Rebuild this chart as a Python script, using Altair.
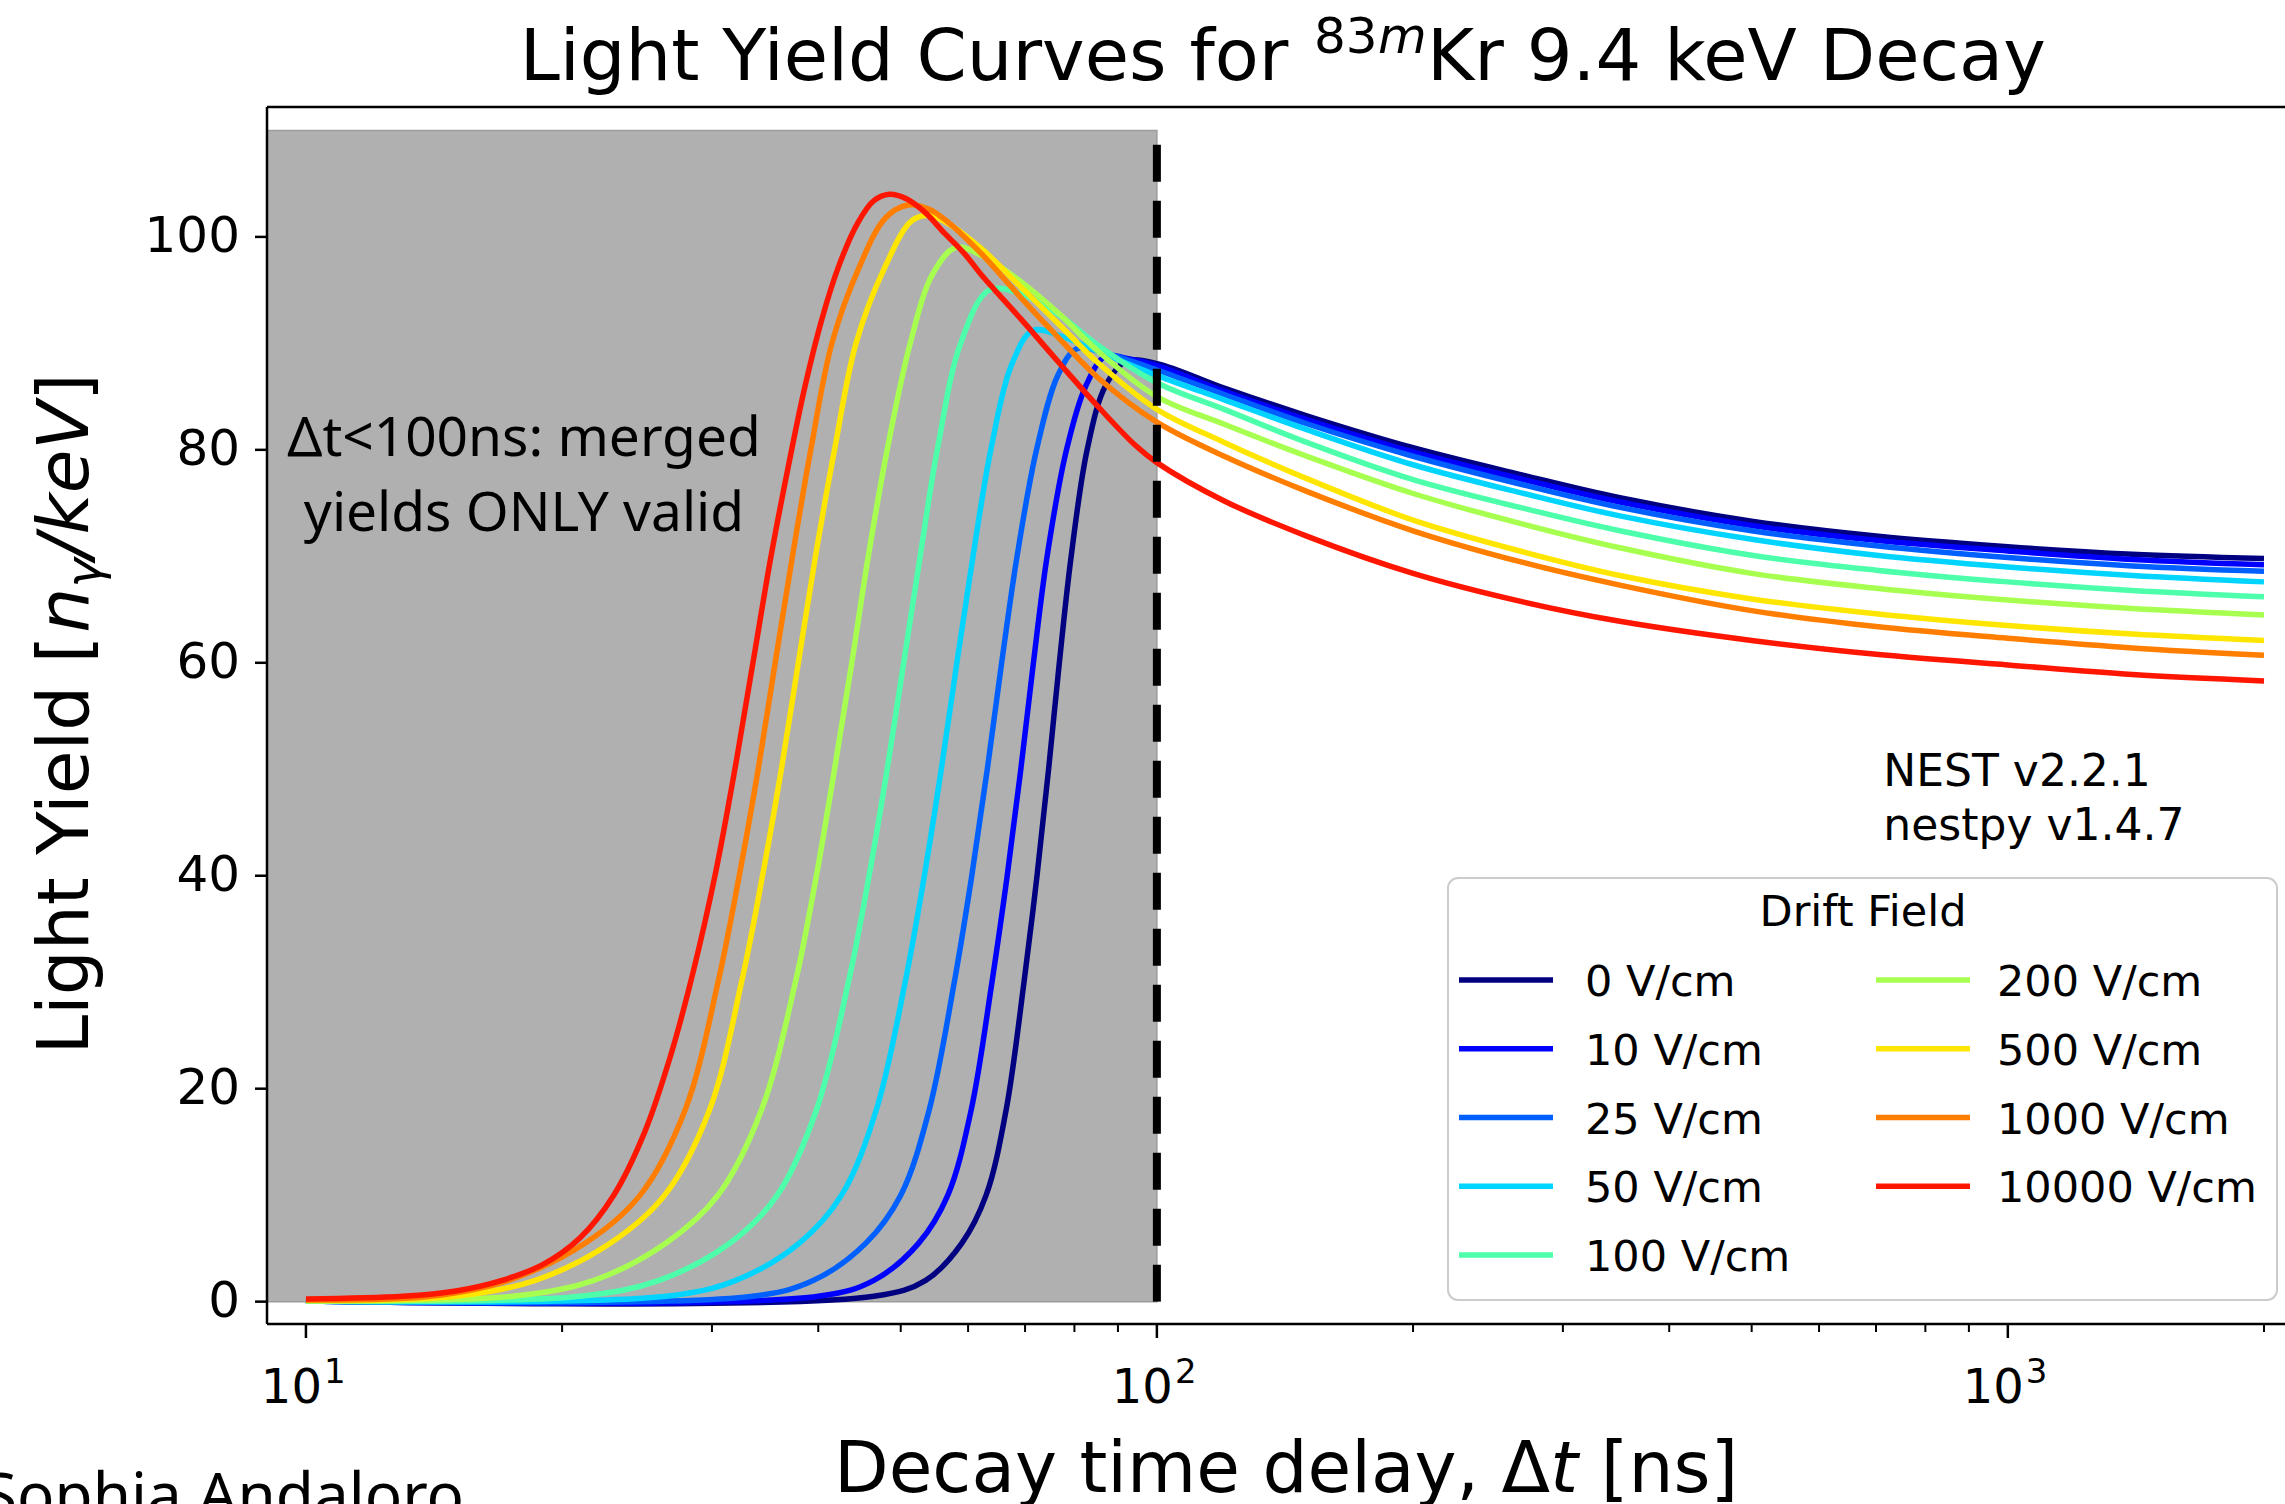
import altair as alt
import pandas as pd

# ---------------- data ----------------
FIELDS = ["0 V/cm", "10 V/cm", "25 V/cm", "50 V/cm", "100 V/cm",
          "200 V/cm", "500 V/cm", "1000 V/cm", "10000 V/cm"]
COLORS = ["#000080", "#0000ff", "#0060ff", "#00d4ff", "#4dffaa",
          "#a7ff50", "#ffe600", "#ff7e00", "#ff1600"]

# decay part (t > 100 ns), common grid
T_DECAY = [120, 150, 200, 270, 350, 500, 700, 1000, 1400, 2000]

T_0 = [10, 46.5, 53.5, 59, 63, 66.5, 69.8, 72.3, 74.6, 76.8, 79.3, 82.8, 87, 92, 100]
Y_0 = [0.05, 0.5, 2, 5.5, 10, 18, 30, 40, 50, 60, 70, 80, 86, 88.3, 88.1]
D_0 = [85.8, 83.2, 80.2, 77.6, 75.5, 73.3, 71.9, 70.9, 70.2, 69.8]

T_10 = [10, 40, 46.5, 52.5, 56.8, 60.5, 64, 66.7, 69.2, 71.6, 74.3, 78.3, 82.5, 87, 92, 100]
Y_10 = [0.05, 0.5, 2, 5.5, 10, 18, 30, 40, 50, 60, 70, 80, 86, 88.8, 88.6, 87.9]
D_10 = [85.5, 82.85, 79.8, 77.2, 75.1, 72.9, 71.5, 70.5, 69.7, 69.2]

T_25 = [10, 33.5, 39.5, 45.5, 50, 54, 57.8, 60.6, 63.2, 65.7, 68.5, 72.2, 76.5, 80.5, 86, 100]
Y_25 = [0.05, 0.5, 2, 5.5, 10, 18, 30, 40, 50, 60, 70, 80, 87, 89.5, 89.2, 87.5]
D_25 = [85.2, 82.45, 79.4, 76.7, 74.6, 72.4, 71.0, 69.9, 69.1, 68.6]

T_50 = [10, 26.5, 32, 38, 42.6, 46.8, 50.6, 53.3, 55.8, 58.2, 60.8, 63.8, 67.5, 71.5, 77, 85, 100]
Y_50 = [0.05, 0.5, 2, 5.5, 10, 18, 30, 40, 50, 60, 70, 80, 88, 91.2, 90.7, 89.3, 87.0]
D_50 = [84.7, 81.9, 78.6, 75.9, 73.8, 71.6, 70.1, 69.0, 68.2, 67.6]

T_100 = [10, 21, 26, 31.5, 35.8, 39.8, 43.4, 45.9, 48.2, 50.4, 52.7, 55.2, 58.8, 63.5, 69, 77, 85, 100]
Y_100 = [0.05, 0.5, 2, 5.5, 10, 18, 30, 40, 50, 60, 70, 80, 90, 95.0, 94.7, 92.6, 89.9, 86.3]
D_100 = [83.8, 80.7, 77.2, 74.5, 72.4, 70.1, 68.7, 67.6, 66.8, 66.2]

T_200 = [10, 17.5, 21.8, 26.5, 30.5, 34.3, 37.6, 39.8, 41.8, 43.8, 45.8, 48.2, 51.3, 54.5, 58, 62.4,
         69.2, 76.7, 85.2, 100]
Y_200 = [0.08, 0.5, 2, 5.5, 10, 18, 30, 40, 50, 60, 70, 80, 90, 96.5, 99.0, 98.2, 95.8, 92.8, 89.3, 85.0]
D_200 = [82.4, 79.4, 75.9, 73.0, 70.8, 68.4, 67.0, 65.9, 65.1, 64.5]

T_500 = [10, 15, 18.6, 22.8, 26.4, 29.8, 32.5, 34.4, 36.2, 37.9, 39.7, 41.8, 44.3, 47.8, 51.5, 54, 57.5,
         62.4, 69.2, 76.7, 85.2, 100]
Y_500 = [0.1, 0.5, 2, 5.5, 10, 18, 30, 40, 50, 60, 70, 80, 90, 97, 101.5, 102.0, 101.0, 98.8, 95.3,
         91.8, 88.2, 83.8]
D_500 = [80.7, 77.3, 73.4, 70.4, 68.2, 66.0, 64.6, 63.5, 62.7, 62.1]

T_1000 = [10, 14, 17.3, 21.3, 24.7, 27.9, 30.5, 32.3, 34.0, 35.6, 37.3, 39.2, 41.5, 44.6, 48, 51, 54, 57,
          62.4, 69.2, 76.7, 85.2, 100]
Y_1000 = [0.15, 0.5, 2, 5.5, 10, 18, 30, 40, 50, 60, 70, 80, 90, 97, 101.8, 103.0, 102.6, 101.3, 98.3,
          94.3, 90.5, 86.8, 82.6]
D_1000 = [79.4, 76.1, 72.4, 69.4, 67.3, 64.9, 63.4, 62.3, 61.4, 60.7]

T_10000 = [10, 13, 15, 17, 19, 21, 23, 25, 26.8, 28.5, 30.3, 32.0, 33.6, 35.2, 36.9, 38.6, 40.4, 42.3,
           44.5, 46.5, 48.5, 50.7, 53.4, 56.2, 59.3, 62.4, 69.2, 76.7, 85.2, 94.4, 100]
Y_10000 = [0.25, 0.5, 1.0, 2, 3.5, 6, 10, 15.9, 23, 30.9, 40.3, 50.5, 60.5, 70, 78.5, 86, 92.3, 97.3,
           101.3, 103.4, 104.0, 103.6, 102.3, 100.4, 98.5, 96.3, 92.3, 88.2, 84.1, 80.4, 78.8]
D_10000 = [75.2, 71.9, 68.4, 65.7, 63.9, 62.1, 60.8, 59.8, 58.9, 58.3]

T_SERIES = [T_0, T_10, T_25, T_50, T_100, T_200, T_500, T_1000, T_10000]
Y_SERIES = [Y_0, Y_10, Y_25, Y_50, Y_100, Y_200, Y_500, Y_1000, Y_10000]
D_SERIES = [D_0, D_10, D_25, D_50, D_100, D_200, D_500, D_1000, D_10000]

SHADE_T = [9.0, 100]
SHADE_Y = [0, 110]
CUT_T = 100
MAJOR_T = [10, 100, 1000]
MAJOR_EXP = ["1", "2", "3"]
MINOR_T = [20, 30, 40, 50, 60, 70, 80, 90, 200, 300, 400, 500, 600, 700, 800, 900, 2000]
Y_TICKS = [0, 20, 40, 60, 80, 100]
Y_TICK_LABELS = ["0", "20", "40", "60", "80", "100"]

XMIN, XMAX = 9.0, 2117
YMIN, YMAX = -2.1, 112.2

# ---------------- layout ----------------
W, H = 2018, 1217
PAD = {"left": 267, "top": 107, "right": 0, "bottom": 180}
FONT = "DejaVu Sans"

rows = []
for f, ts, ys, ds in zip(FIELDS, T_SERIES, Y_SERIES, D_SERIES):
    for t, y in zip(ts + T_DECAY, ys + ds):
        rows.append({"field": f, "t": t, "y": y})
curves = pd.DataFrame(rows)

XS = alt.Scale(type="log", domain=[XMIN, XMAX], nice=False)
YS = alt.Scale(domain=[YMIN, YMAX], nice=False, zero=False)
CS = alt.Scale(domain=FIELDS, range=COLORS)

ONE = pd.DataFrame({"a": [0]})


def txt(s, x, y, size, font=FONT, style="normal", align="left", angle=0):
    return alt.Chart(ONE).mark_text(text=s, font=font, fontSize=size, fontStyle=style,
                                    align=align, baseline="alphabetic", angle=angle,
                                    color="black").encode(x=alt.value(x), y=alt.value(y))


def hline(x0, x1, y, w=2.5):
    return alt.Chart(ONE).mark_rule(color="black", strokeWidth=w).encode(
        x=alt.value(x0), x2=alt.value(x1), y=alt.value(y))


shade = alt.Chart(pd.DataFrame({"t0": [SHADE_T[0]], "t1": [SHADE_T[1]],
                                "y0": [SHADE_Y[0]], "y1": [SHADE_Y[1]]})).mark_rect(
    fill="#b0b0b0", stroke="#9c9c9c", strokeWidth=1.5).encode(
    x=alt.X("t0:Q", scale=XS, axis=None), x2="t1:Q",
    y=alt.Y("y0:Q", scale=YS, axis=None), y2="y1:Q")

lines = alt.Chart(curves).mark_line(strokeWidth=5.5, interpolate="catmull-rom").encode(
    x=alt.X("t:Q", scale=XS, axis=None),
    y=alt.Y("y:Q", scale=YS, axis=None),
    color=alt.Color("field:N", scale=CS, legend=None))

cut = alt.Chart(pd.DataFrame({"t": [CUT_T], "y0": [SHADE_Y[0]], "y1": [SHADE_Y[1]]})).mark_rule(
    color="black", strokeWidth=8, strokeDash=[37, 19]).encode(
    x=alt.X("t:Q", scale=XS, axis=None), y=alt.Y("y0:Q", scale=YS, axis=None), y2="y1:Q")

# ---- axes drawn with marks (spines, ticks, tick labels) ----
top_spine = hline(0, W, 0)
bottom_spine = hline(0, W, H)
left_spine = alt.Chart(ONE).mark_rule(color="black", strokeWidth=2.5).encode(
    x=alt.value(0), y=alt.value(0), y2=alt.value(H))

ydf = pd.DataFrame({"v": Y_TICKS, "lab": Y_TICK_LABELS})
y_ticks = alt.Chart(ydf).mark_rule(color="black", strokeWidth=2.5).encode(
    y=alt.Y("v:Q", scale=YS, axis=None), x=alt.value(-12), x2=alt.value(0))
y_labels = alt.Chart(ydf).mark_text(font=FONT, fontSize=50, align="right", baseline="middle",
                                    color="black").encode(
    y=alt.Y("v:Q", scale=YS, axis=None), x=alt.value(-27), text="lab:N")

maj = pd.DataFrame({"t": MAJOR_T, "b": ["10"] * 3, "e": MAJOR_EXP})
x_major = alt.Chart(maj).mark_rule(color="black", strokeWidth=2.5).encode(
    x=alt.X("t:Q", scale=XS, axis=None), y=alt.value(H), y2=alt.value(H + 14))
x_minor = alt.Chart(pd.DataFrame({"t": MINOR_T})).mark_rule(color="black", strokeWidth=2).encode(
    x=alt.X("t:Q", scale=XS, axis=None), y=alt.value(H), y2=alt.value(H + 8))
xlab_base = alt.Chart(maj).mark_text(font=FONT, fontSize=48, align="right", baseline="alphabetic",
                                      dx=16, color="black").encode(
    x=alt.X("t:Q", scale=XS, axis=None), y=alt.value(H + 79), text="b:N")
xlab_exp = alt.Chart(maj).mark_text(font=FONT, fontSize=34, align="left", baseline="alphabetic",
                                     dx=18, color="black").encode(
    x=alt.X("t:Q", scale=XS, axis=None), y=alt.value(H + 59), text="e:N")

note = alt.Chart(pd.DataFrame({"t": [18.04, 18.04], "y": [79.4, 72.4],
                               "s": ["\u0394t<100ns: merged", "yields ONLY valid"]})).mark_text(
    font="Noto Sans", fontSize=55, align="center", baseline="alphabetic", color="black").encode(
    x=alt.X("t:Q", scale=XS, axis=None), y=alt.Y("y:Q", scale=YS, axis=None), text="s:N")

nest = alt.Chart(pd.DataFrame({"t": [714, 714], "y": [48.4, 43.4],
                               "s": ["NEST v2.2.1", "nestpy v1.4.7"]})).mark_text(
    font=FONT, fontSize=44, align="left", baseline="alphabetic", color="black").encode(
    x=alt.X("t:Q", scale=XS, axis=None), y=alt.Y("y:Q", scale=YS, axis=None), text="s:N")

# legend (built by hand: column-major order, like the reference)
SYM_X = [1192, 1609]
LAB_X = [1318, 1730]
ROW0, ROW_STEP = 873, 68.75
legend_layers = [
    alt.Chart(ONE).mark_rect(fill="white", fillOpacity=0.8, stroke="#cccccc",
                             strokeWidth=2, cornerRadius=10).encode(
        x=alt.value(1181), x2=alt.value(2010), y=alt.value(771), y2=alt.value(1193)),
    txt("Drift Field", 1596, 819, 43, align="center"),
]
for i, (f, c) in enumerate(zip(FIELDS, COLORS)):
    col = 0 if i < 5 else 1
    row = i if i < 5 else i - 5
    sy = ROW0 + row * ROW_STEP
    legend_layers.append(
        alt.Chart(ONE).mark_rule(color=c, strokeWidth=5.5).encode(
            x=alt.value(SYM_X[col]), x2=alt.value(SYM_X[col] + 94), y=alt.value(sy)))
    legend_layers.append(txt(f, LAB_X[col], sy + 16, 43))

# titles
title_parts = [
    txt("Light Yield Curves for", 252.7, -27, 72),
    txt("83", 1046.9, -54, 50),
    txt("m", 1111, -54, 50, style="italic"),
    txt("Kr 9.4 keV Decay", 1160.1, -27, 72),
]
xlabel_parts = [
    txt("Decay time delay, \u0394", 567, 1385, 71),
    txt("t", 1283.3, 1385, 71, style="italic"),
    txt("[ns]", 1333.7, 1385, 71),
]
ylabel_parts = [
    txt("Light Yield [", -179, 947.5, 71, angle=270),
    txt("n", -179, 525.8, 71, style="italic", angle=270),
    txt("\u03b3", -166, 480.8, 50, style="italic", angle=270),
    txt("/keV", -179, 451.4, 71, style="italic", angle=270),
    txt("]", -179, 294.1, 71, angle=270),
]
author = txt("Sophia Andaloro", -284, 1410, 62, font="Noto Sans")

chart = alt.layer(
    shade, lines, cut,
    top_spine, bottom_spine, left_spine, y_ticks, y_labels, x_major, x_minor,
    xlab_base, xlab_exp, note, nest,
    *legend_layers, *title_parts, *xlabel_parts, *ylabel_parts, author
).properties(
    width=W, height=H, padding=PAD, autosize=alt.AutoSizeParams(type="none")
).configure(font=FONT).configure_view(stroke=None)

chart.save("out.html", embed_options={"renderer": "svg", "actions": False})
